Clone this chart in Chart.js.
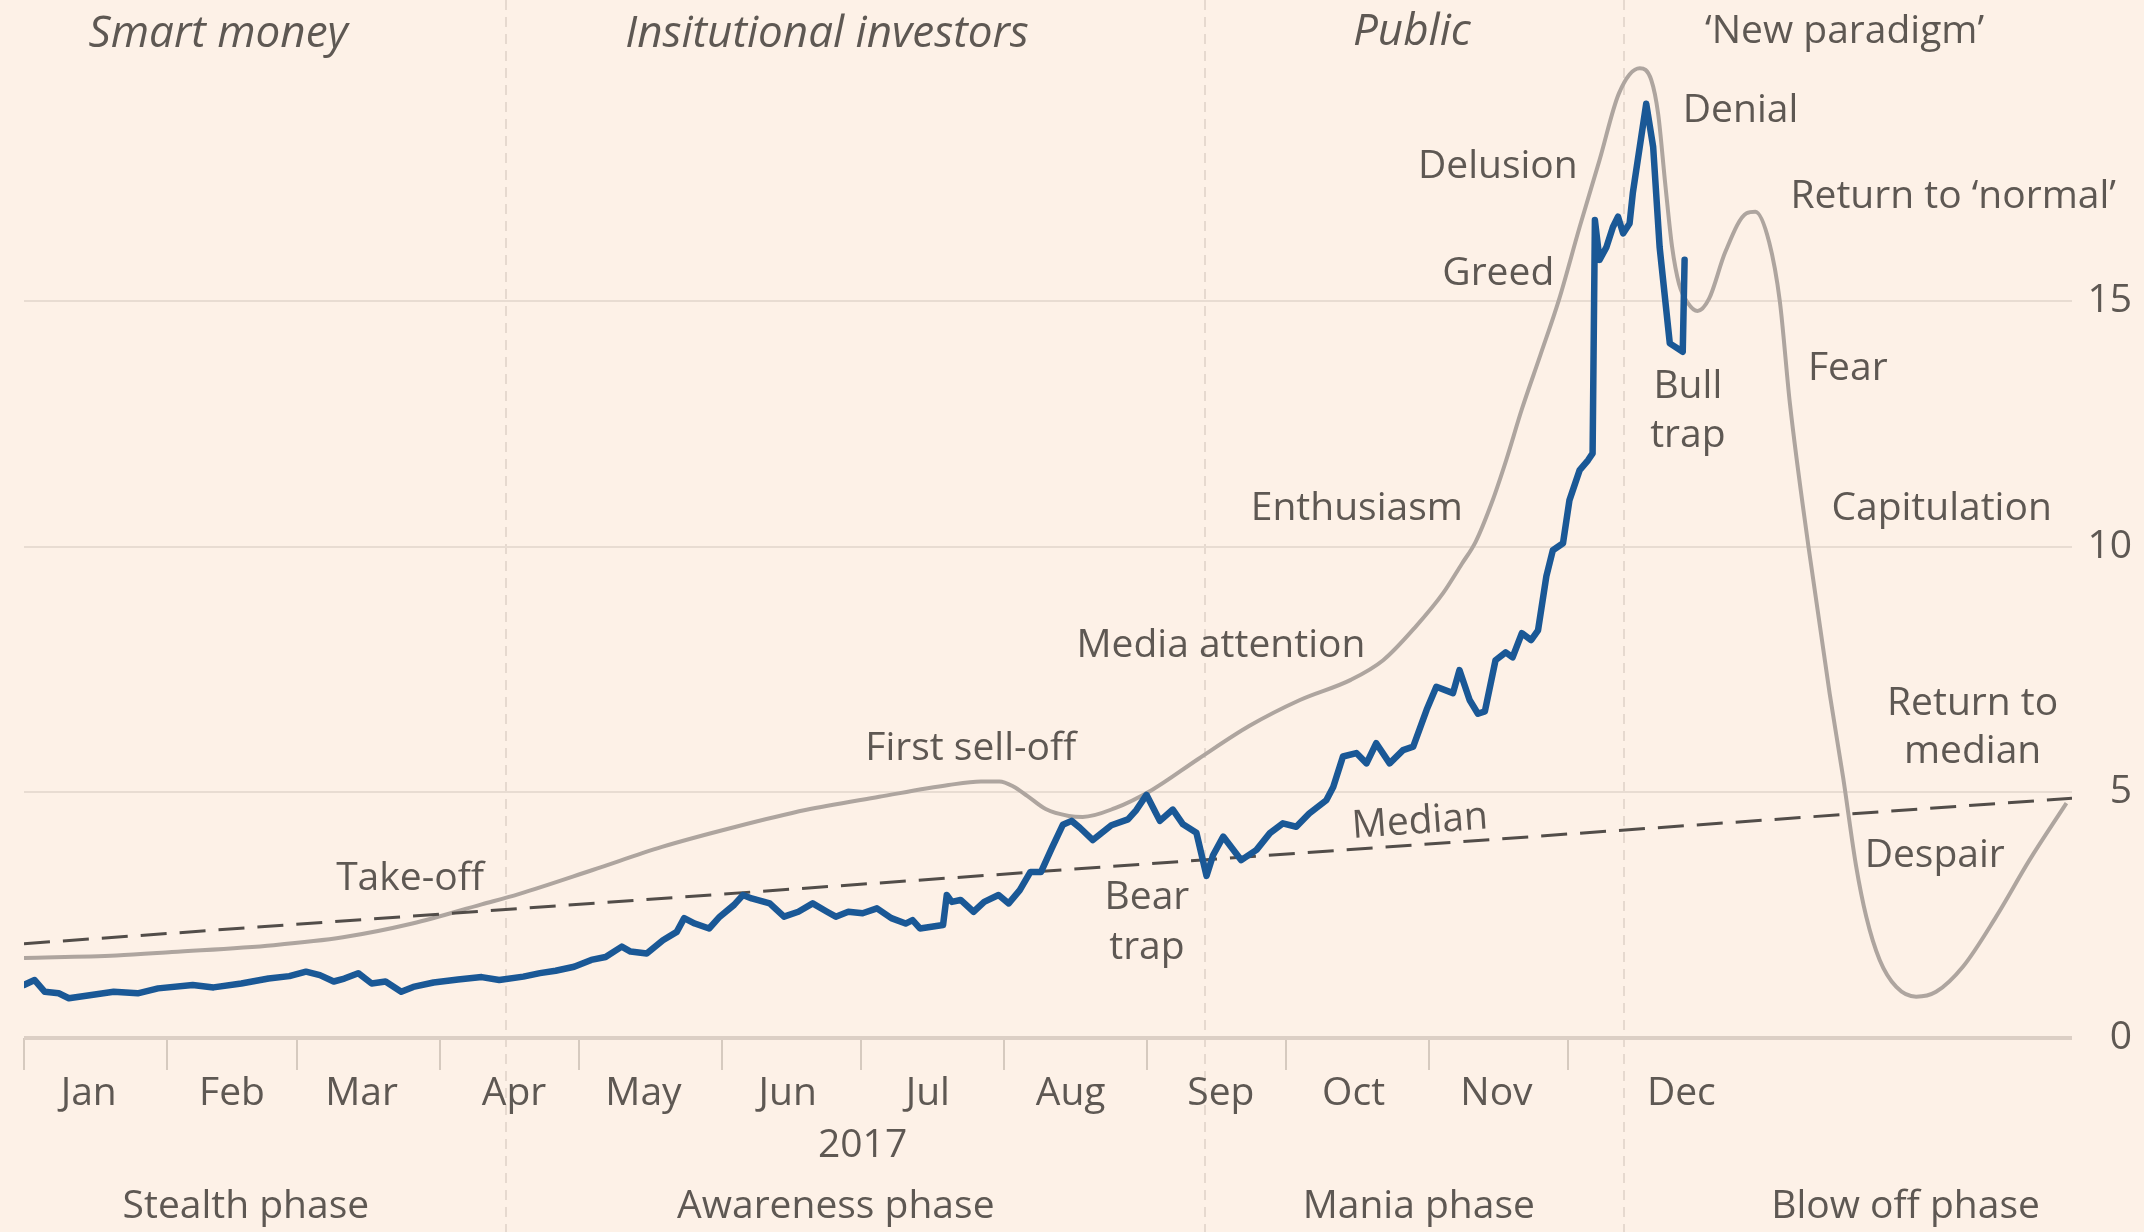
<!DOCTYPE html>
<html>
<head>
<meta charset="utf-8">
<script src="https://cdn.jsdelivr.net/npm/chart.js@4.4.1/dist/chart.umd.min.js"></script>
<style>
  html, body { margin: 0; padding: 0; background: #fdf1e7; }
  #wrap { width: 2144px; height: 1232px; position: relative; }
</style>
</head>
<body>
<div id="wrap"><canvas id="bubbleChart"></canvas></div>
<script>
// x values are days since 1 Jan 2017
const btcDays = [
  0, 2.3, 4.5, 7.5, 9.7, 14.2, 19.4, 24.6, 29, 36.5,
  41, 47, 52.9, 57.4, 61, 64, 67, 69.3, 72.3, 75.2,
  78.2, 81.6, 84.2, 88.6, 93.9, 99, 102.8, 108, 111.6, 115,
  119, 122.7, 125.8, 129.3, 131.2, 134.7, 138.2, 141.2, 142.8, 145.1,
  148.2, 150.5, 153.6, 155.5, 157.4, 161.3, 164.4, 167.5, 170.6, 173.7,
  175.6, 178.3, 181.4, 184.5, 187.6, 190.7, 192.2, 193.8, 198.8, 199.6,
  200.7, 202.6, 205.4, 207.7, 210.8, 213, 215.4, 217.7, 220, 222.3,
  224.7, 226.6, 228.4, 231.2, 235.2, 238.8, 240.6, 242.8, 245.7, 248.5,
  250.7, 253.6, 255.8, 257.2, 259.4, 263.3, 266.6, 269.5, 272.3, 275.2,
  278, 281.7, 283.2, 285.3, 288.2, 290.4, 292.5, 295.4, 298.3, 300.5,
  303.4, 305.5, 309.1, 310.5, 312.7, 314.5, 316, 318.3, 320.5, 322,
  324, 326, 327.5, 329.3, 330.7, 332.9, 334.3, 336.5, 338.3, 339.3,
  339.8, 340.8, 342.3, 343.7, 344.8, 345.9, 347.3, 348, 350.9, 352.4,
  353.8, 356, 358.8, 359.2
]
const btcPrice = [
  1.08, 1.18, 0.94, 0.91, 0.81, 0.87, 0.94, 0.91, 1.01, 1.08,
  1.03, 1.11, 1.21, 1.26, 1.35, 1.28, 1.15, 1.21, 1.32, 1.11,
  1.15, 0.94, 1.04, 1.13, 1.19, 1.24, 1.18, 1.25, 1.32, 1.37,
  1.45, 1.59, 1.65, 1.86, 1.76, 1.72, 1.99, 2.16, 2.44, 2.33,
  2.23, 2.47, 2.71, 2.91, 2.84, 2.74, 2.47, 2.57, 2.74, 2.57,
  2.47, 2.57, 2.54, 2.64, 2.44, 2.33, 2.40, 2.23, 2.30, 2.91,
  2.77, 2.81, 2.57, 2.77, 2.91, 2.74, 3.01, 3.38, 3.38, 3.86,
  4.34, 4.42, 4.28, 4.03, 4.33, 4.45, 4.64, 4.95, 4.42, 4.65,
  4.35, 4.18, 3.30, 3.72, 4.10, 3.62, 3.83, 4.17, 4.37, 4.30,
  4.57, 4.84, 5.11, 5.73, 5.80, 5.59, 6.00, 5.59, 5.86, 5.93,
  6.68, 7.15, 7.02, 7.49, 6.88, 6.60, 6.65, 7.69, 7.85, 7.75,
  8.24, 8.10, 8.30, 9.40, 9.93, 10.07, 10.95, 11.56, 11.76, 11.90,
  16.65, 15.84, 16.10, 16.51, 16.72, 16.38, 16.58, 17.20, 19.02, 18.14,
  16.10, 14.14, 13.97, 15.84
]

// idealised bubble curve
const curveDays = [
  0, 20, 32, 54, 69, 84, 99, 107, 123, 138,
  154, 169, 185, 200, 207, 211, 214, 217, 221, 226,
  229, 236, 244, 254, 265, 276, 287, 294, 301, 307,
  311, 314, 317.5, 320.6, 324, 328, 332, 336.5, 340.8, 345,
  349.5, 352, 353.5, 355, 356.5, 358, 360, 362, 364.5, 368,
  372.6, 374.5, 377.5, 379.8, 382, 386, 390.6, 393.5, 396.3, 398.5,
  401.4, 405, 409.3, 413.6, 419.4, 426.6, 433.8, 441.8
]
const curveValues = [
  1.63, 1.68, 1.75, 1.89, 2.05, 2.33, 2.72, 2.93, 3.42, 3.89,
  4.30, 4.64, 4.91, 5.15, 5.22, 5.22, 5.12, 4.93, 4.66, 4.52,
  4.50, 4.68, 5.05, 5.68, 6.35, 6.88, 7.29, 7.69, 8.37, 9.06,
  9.65, 10.1, 10.9, 11.76, 12.8, 13.9, 15.02, 16.51, 17.87, 19.23,
  19.74, 19.5, 18.8, 17.4, 16.1, 15.35, 14.95, 14.8, 15.05, 16.0,
  16.79, 16.82, 16.2, 15.0, 12.9, 10.0, 7.0, 5.3, 3.5, 2.47,
  1.59, 1.04, 0.84, 0.94, 1.45, 2.47, 3.62, 4.78
]

const medianDays = [0, 443]
const medianValues = [1.92, 4.88]

const monthStarts = [0, 31, 59, 90, 120, 151, 181, 212, 243, 273, 304, 334]
const monthNames = ['Jan', 'Feb', 'Mar', 'Apr', 'May', 'Jun', 'Jul', 'Aug', 'Sep', 'Oct', 'Nov', 'Dec']
const monthLabelDays = [14, 45, 73, 106, 134, 165.2, 195.5, 226.4, 258.9, 287.6, 318.5, 358.5]
const yTicks = [0, 5, 10, 15]
const phaseBreaks = [104.2, 255.4, 346]

const FONT = '"Open Sans", sans-serif'
const TEXT = '#5e5853'

// annotation layout, in axis units (x = day, y = value at text baseline)
const notes = [
  { text: 'Smart money', x: 42, y: 20.17, italic: true },
  { text: 'Insitutional investors', x: 173.7, y: 20.17, italic: true },
  { text: 'Public', x: 300.2, y: 20.21, italic: true },
  { text: '\u2018New paradigm\u2019', x: 393.8, y: 20.25 },
  { text: 'Denial', x: 371.3, y: 18.64 },
  { text: 'Delusion', x: 318.8, y: 17.5 },
  { text: 'Return to \u2018normal\u2019', x: 417.3, y: 16.89 },
  { text: 'Greed', x: 318.9, y: 15.33 },
  { text: 'Fear', x: 394.5, y: 13.39 },
  { text: 'Bull', x: 359.9, y: 13.03 },
  { text: 'trap', x: 359.9, y: 12.03 },
  { text: 'Enthusiasm', x: 288.3, y: 10.54 },
  { text: 'Capitulation', x: 414.8, y: 10.54 },
  { text: 'Media attention', x: 258.9, y: 7.75 },
  { text: 'Return to', x: 421.5, y: 6.57 },
  { text: 'median', x: 421.5, y: 5.6 },
  { text: 'First sell-off', x: 204.8, y: 5.66 },
  { text: 'Take-off', x: 83.5, y: 3.01 },
  { text: 'Bear', x: 242.9, y: 2.62 },
  { text: 'trap', x: 242.9, y: 1.6 },
  { text: 'Despair', x: 413.3, y: 3.48 },
  { text: 'Median', x: 287.4, y: 4.07, along: true },
  { text: '2017', x: 181.4, y: -2.42 },
  { text: 'Stealth phase', x: 48, y: -3.66 },
  { text: 'Awareness phase', x: 175.6, y: -3.66 },
  { text: 'Mania phase', x: 301.7, y: -3.66 },
  { text: 'Blow off phase', x: 407, y: -3.66 }
]

const toPoints = (xs, ys) => xs.map((x, i) => ({ x: x, y: ys[i] }))

const decor = {
  id: 'decor',
  beforeDraw(chart) {
    const { ctx, scales: { x } } = chart
    ctx.save()
    ctx.fillStyle = '#fdf1e7'
    ctx.fillRect(0, 0, chart.width, chart.height)
    ctx.strokeStyle = '#e6d9cf'
    ctx.lineWidth = 2
    ctx.setLineDash([10, 7])
    phaseBreaks.forEach(d => {
      const px = Math.round(x.getPixelForValue(d))
      ctx.beginPath()
      ctx.moveTo(px, 0)
      ctx.lineTo(px, chart.height)
      ctx.stroke()
    })
    ctx.restore()
  },
  afterDraw(chart) {
    const { ctx, scales: { x, y } } = chart
    ctx.save()
    ctx.fillStyle = TEXT
    ctx.textBaseline = 'alphabetic'
    notes.forEach(n => {
      const px = x.getPixelForValue(n.x)
      const py = y.getPixelForValue(n.y)
      ctx.font = (n.italic ? 'italic 44px ' : '39px ') + FONT
      if (n.along) {
        const x0 = x.getPixelForValue(medianDays[0]), x1 = x.getPixelForValue(medianDays[1])
        const y0 = y.getPixelForValue(medianValues[0]), y1 = y.getPixelForValue(medianValues[1])
        ctx.save()
        ctx.translate(px, py)
        ctx.rotate(Math.atan2(y1 - y0, x1 - x0))
        ctx.textAlign = 'left'
        ctx.fillText(n.text, 0, 0)
        ctx.restore()
      } else {
        ctx.textAlign = 'center'
        ctx.fillText(n.text, px, py)
      }
    })
    ctx.restore()
  }
}

const ctx = document.getElementById('bubbleChart')
new Chart(ctx, {
  type: 'line',
  data: {
    datasets: [
      {
        label: 'Bitcoin',
        data: toPoints(btcDays, btcPrice),
        borderColor: '#1a5896',
        borderWidth: 6.5,
        pointRadius: 0,
        tension: 0,
        borderJoinStyle: 'round',
        borderCapStyle: 'round'
      },
      {
        label: 'Median',
        data: toPoints(medianDays, medianValues),
        borderColor: '#524d49',
        borderWidth: 3,
        borderDash: [26, 13],
        pointRadius: 0
      },
      {
        label: 'Bubble',
        data: toPoints(curveDays, curveValues),
        borderColor: '#aea59f',
        borderWidth: 4,
        pointRadius: 0,
        cubicInterpolationMode: 'monotone'
      }
    ]
  },
  options: {
    responsive: true,
    maintainAspectRatio: false,
    animation: false,
    events: [],
    layout: { padding: { left: 24, right: 12, top: 0, bottom: 0 } },
    plugins: { legend: { display: false }, tooltip: { enabled: false } },
    scales: {
      x: {
        type: 'linear',
        min: 0,
        max: 443,
        afterBuildTicks: s => {
          s.ticks = monthStarts.concat(monthLabelDays).sort((a, b) => a - b).map(v => ({ value: v }))
        },
        afterFit: s => {
          s.height = 194
          s.paddingLeft = 0
          s.paddingRight = 0
        },
        border: { display: false },
        grid: {
          drawOnChartArea: false,
          tickLength: 32,
          lineWidth: 2,
          color: c => monthStarts.includes(c.tick && c.tick.value) ? '#d6cabf' : 'rgba(0,0,0,0)'
        },
        ticks: {
          autoSkip: false,
          maxRotation: 0,
          padding: 0,
          color: TEXT,
          font: { family: FONT, size: 39 },
          callback: v => {
            const i = monthLabelDays.indexOf(v)
            return i >= 0 ? monthNames[i] : ''
          }
        }
      },
      y: {
        position: 'right',
        min: 0,
        max: 21.13,
        afterBuildTicks: s => { s.ticks = yTicks.map(v => ({ value: v })) },
        afterFit: s => {
          s.width = 60
          s.paddingTop = 0
          s.paddingBottom = 0
        },
        border: { display: false },
        grid: {
          drawTicks: false,
          color: c => c.tick && c.tick.value === 0 ? '#dccfc5' : '#e8dcd2',
          lineWidth: c => c.tick && c.tick.value === 0 ? 4 : 2
        },
        ticks: {
          crossAlign: 'far',
          padding: 15,
          color: TEXT,
          font: { family: FONT, size: 39 }
        }
      }
    }
  },
  plugins: [decor]
})
</script>
</body>
</html>
